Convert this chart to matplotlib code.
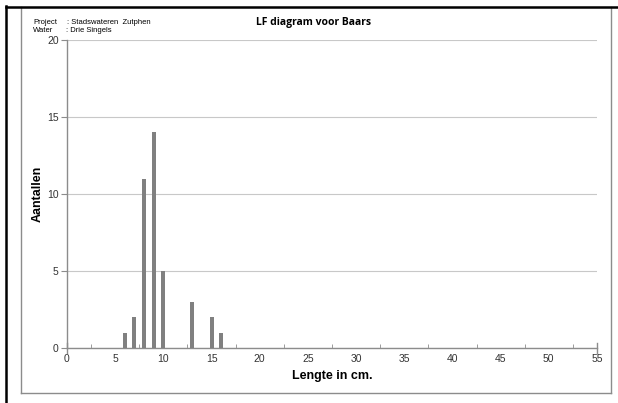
import matplotlib
matplotlib.use("Agg")
import matplotlib.pyplot as plt
from matplotlib.lines import Line2D

lengths = [6, 7, 8, 9, 10, 13, 15, 16]
counts = [1, 2, 11, 14, 5, 3, 2, 1]
x_ticks = [0, 5, 10, 15, 20, 25, 30, 35, 40, 45, 50, 55]
y_ticks = [0, 5, 10, 15, 20]

W, H = 618, 403
fig = plt.figure(figsize=(W / 100, H / 100), dpi=100)
fig.patch.set_facecolor("white")

def fx(px):
    return px / W

def fy(py):
    return 1 - py / H

# page / chart borders
fig.add_artist(Line2D([fx(20.5), fx(20.5)], [fy(7), fy(392.5)], color="#8c8c8c", lw=1.0))
fig.add_artist(Line2D([fx(610.5), fx(610.5)], [fy(7), fy(392.5)], color="#8c8c8c", lw=1.0))
fig.add_artist(Line2D([fx(20.5), fx(610.5)], [fy(392.5), fy(392.5)], color="#8c8c8c", lw=1.0))
fig.add_artist(Line2D([fx(5.5), fx(618)], [fy(6.5), fy(6.5)], color="black", lw=1.8))
fig.add_artist(Line2D([fx(5.5), fx(5.5)], [fy(6), fy(403)], color="black", lw=1.8))

ax = fig.add_axes([fx(67), fy(348), fx(597) - fx(67), fy(40) - fy(348)])
ax.bar(lengths, counts, width=0.42, color="#808080", zorder=3)
ax.set_xlim(0, 55)
ax.set_ylim(0, 20)
ax.set_xticks(x_ticks)
ax.set_yticks(y_ticks)
ax.set_xticks([2.5 + 5 * i for i in range(11)], minor=True)
ax.tick_params(axis="x", which="major", length=0, labelsize=7.5, colors="#333333", pad=4)
ax.tick_params(axis="x", which="minor", direction="in", length=3, color="#8c8c8c")
ax.tick_params(axis="y", which="major", direction="out", length=4, color="#8c8c8c",
               labelsize=7.5, labelcolor="#333333", pad=2)
for lbl in ax.get_xticklabels() + ax.get_yticklabels():
    lbl.set_fontfamily("Liberation Sans")
ax.grid(axis="y", color="#c8c8c8", lw=0.8, zorder=0)
for s in ["top", "right"]:
    ax.spines[s].set_visible(False)
for s in ["left", "bottom"]:
    ax.spines[s].set_color("#8c8c8c")
    ax.spines[s].set_linewidth(1.0)
# end ticks on x-axis
for xv in (0, 55):
    ax.plot([xv, xv], [-0.3, 0.3], color="#8c8c8c", lw=1.0, clip_on=False, zorder=4)

ax.set_xlabel("Lengte in cm.", fontsize=9, fontweight="bold", family="Liberation Sans", labelpad=5)
ax.set_ylabel("Aantallen", fontsize=9, fontweight="bold", family="Liberation Sans", labelpad=2.5)

fig.text(fx(314), fy(22), "LF diagram voor Baars", fontsize=7.5, fontweight="bold",
         family="Open Sans", ha="center", va="center")
fig.text(fx(33), fy(23), "Project", fontsize=5.5, family="Liberation Sans", va="center")
fig.text(fx(67), fy(23), ": Stadswateren  Zutphen", fontsize=5.5, family="Liberation Sans", va="center")
fig.text(fx(33), fy(31), "Water", fontsize=5.5, family="Liberation Sans", va="center")
fig.text(fx(66), fy(31), ": Drie Singels", fontsize=5.5, family="Liberation Sans", va="center")

fig.savefig("out.png", dpi=100)
